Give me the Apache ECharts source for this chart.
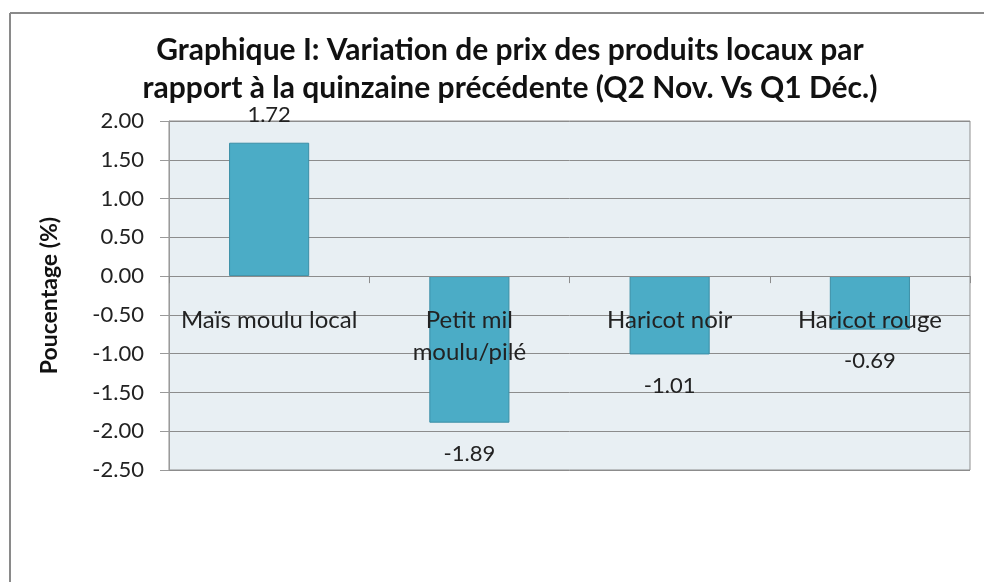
<!DOCTYPE html>
<html>
<head>
<meta charset="utf-8">
<script src="https://cdn.jsdelivr.net/npm/echarts@6/dist/echarts.min.js"></script>
<style>
  html, body { margin: 0; padding: 0; background: #fff; }
  #main { width: 984px; height: 582px; }
</style>
</head>
<body>
<div id="main"></div>
<script>
// données du graphique
var categories = ['Maïs moulu local', 'Petit mil\nmoulu/pilé', 'Haricot noir', 'Haricot rouge'];
var values = [1.72, -1.89, -1.01, -0.69];
var yMin = -2.5;
var yMax = 2;
var yStep = 0.5;

var chart = echarts.init(document.getElementById('main'), null, { renderer: 'canvas' });

var font = 'Lato, "Open Sans", sans-serif';

// étiquette au-dessus si positif, en dessous si négatif
var barData = values.map(function (v) {
  return {
    value: v,
    label: { position: v >= 0 ? 'top' : 'bottom', distance: v >= 0 ? 17 : 20 }
  };
});

chart.setOption({
  backgroundColor: '#ffffff',
  animation: false,
  title: {
    text: 'Graphique I: Variation de prix des produits locaux par\nrapport à la quinzaine précédente (Q2 Nov. Vs Q1 Déc.)',
    left: 505,
    top: 26,
    textAlign: 'center',
    textStyle: {
      fontFamily: font,
      fontWeight: 'bold',
      fontSize: 30,
      lineHeight: 38,
      color: '#111'
    }
  },
  graphic: [
    { type: 'line', shape: { x1: 10, y1: 13, x2: 984, y2: 13 }, style: { stroke: '#8a8a8a', lineWidth: 2 } },
    { type: 'line', shape: { x1: 10, y1: 13, x2: 10, y2: 582 }, style: { stroke: '#8a8a8a', lineWidth: 2 } }
  ],
  grid: {
    left: 169,
    right: 14,
    top: 121,
    bottom: 112,
    show: true,
    backgroundColor: '#e8eff3',
    borderColor: '#8f8f8f',
    borderWidth: 1
  },
  xAxis: {
    type: 'category',
    data: categories,
    z: 5, // les noms passent par-dessus les barres
    axisLine: { onZero: true, lineStyle: { color: '#8c8c8c', width: 1 } },
    axisTick: { show: true, length: 7, lineStyle: { color: '#8c8c8c' } },
    axisLabel: {
      interval: 0,
      // étiquettes collées à la ligne du zéro comme dans Excel
      margin: -166,
      fontFamily: font,
      fontSize: 24,
      lineHeight: 32,
      color: '#222'
    }
  },
  yAxis: {
    type: 'value',
    min: yMin,
    max: yMax,
    interval: yStep,
    name: 'Poucentage (%)',
    nameLocation: 'middle',
    nameRotate: 90,
    nameGap: 108,
    nameTextStyle: {
      fontFamily: font,
      fontWeight: 'bold',
      fontSize: 23,
      color: '#111'
    },
    axisLine: { show: true, lineStyle: { color: '#9a9a9a' } },
    axisTick: { show: true, inside: false, length: 9, lineStyle: { color: '#9a9a9a' } },
    axisLabel: {
      margin: 25,
      fontFamily: font,
      fontSize: 22,
      color: '#222',
      formatter: function (v) { return v.toFixed(2); }
    },
    splitLine: { show: true, lineStyle: { color: '#8c8c8c', width: 1 } }
  },
  series: [{
    type: 'bar',
    data: barData,
    barWidth: '40%',
    itemStyle: {
      color: '#4bacc6',
      borderColor: '#3a8ea6',
      borderWidth: 1
    },
    label: {
      show: true,
      fontFamily: font,
      fontSize: 22,
      color: '#222',
      formatter: function (p) { return p.value.toFixed(2); }
    }
  }]
});
</script>
</body>
</html>
